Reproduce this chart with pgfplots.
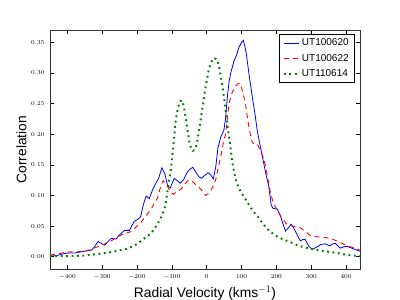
\documentclass[border=0pt]{standalone}
\usepackage{fontspec}
\setmainfont{Liberation Sans}
\usepackage{pgfplots}
\pgfplotsset{compat=1.18}
\definecolor{mplblue}{HTML}{0000FF}
\definecolor{mplred}{HTML}{FF0000}
\definecolor{mplgreen}{HTML}{008000}
\begin{document}
\begin{tikzpicture}
\path[use as bounding box] (-50pt,-31pt) rectangle (350pt,269pt);
\begin{axis}[
  at={(0pt,0pt)}, anchor=south west,
  scale only axis, width=310pt, height=239pt,
  xmin=-450, xmax=440, ymin=-0.02, ymax=0.37,
  xtick={-400,-300,-200,-100,0,100,200,300,400},
  ytick={0,0.05,0.10,0.15,0.20,0.25,0.30,0.35},
  yticklabel style={/pgf/number format/fixed, /pgf/number format/fixed zerofill, /pgf/number format/precision=2, xshift=-2pt},
  ticklabel style={font=\fontsize{6}{7}\selectfont},
  xticklabel style={yshift=-2pt},
  major tick length=4pt,
  tick style={black, line width=0.6pt},
  axis line style={black!80, line width=0.8pt},
  xlabel={\fontsize{13.8}{15}\selectfont Radial Velocity (kms$^{-1}$)},
  ylabel={\fontsize{13.8}{15}\selectfont Correlation},
  every axis x label/.style={at={(axis description cs:0.5,-0.056)}, anchor=north},
  every axis y label/.style={at={(axis description cs:-0.0645,0.5)}, rotate=90, anchor=south},
  legend image code/.code={\draw[#1] (0pt,0pt) -- (15pt,0pt);},
  legend style={at={(axis description cs:0.984,0.983)}, anchor=north east,
    draw=black, line width=0.8pt,
    row sep=2.8pt, inner xsep=4pt, inner ysep=2.5pt, cells={anchor=west}},
  legend cell align=left,
]
\addplot[mplblue, line width=0.8pt] coordinates {
(-450,0.001) (-430,0.002) (-410,0.005) (-400,0.006) (-380,0.006) (-360,0.008)
(-340,0.010) (-330,0.011) (-320,0.018) (-312,0.025) (-300,0.021) (-293,0.019)
(-283,0.025) (-274,0.030) (-260,0.029) (-250,0.036) (-236,0.043) (-222,0.043)
(-208,0.058) (-198,0.061) (-190,0.065) (-182,0.085) (-174,0.099) (-165,0.095)
(-155,0.110) (-146,0.120) (-138,0.128) (-129,0.145) (-120,0.135) (-112,0.115)
(-105,0.112) (-98,0.122) (-93,0.128) (-84,0.124) (-76,0.120) (-66,0.126)
(-58,0.136) (-50,0.142) (-40,0.146) (-30,0.137) (-22,0.130) (-15,0.128)
(-5,0.133) (4,0.137) (12,0.133) (19,0.127) (26,0.147) (32,0.177) (40,0.195)
(49,0.206) (54,0.225) (59,0.260) (64,0.285) (69,0.300) (78,0.319) (85,0.328)
(92,0.341) (100,0.350) (105,0.353) (110,0.342) (114,0.330) (122,0.295)
(131,0.260) (138,0.235) (145,0.206) (152,0.185) (160,0.163) (168,0.140)
(178,0.115) (185,0.085) (190,0.079) (202,0.078) (211,0.068) (218,0.055)
(226,0.042) (234,0.047) (242,0.053) (248,0.049) (254,0.042) (262,0.033)
(269,0.026) (276,0.028) (283,0.028) (292,0.018) (302,0.012) (310,0.014)
(316,0.016) (328,0.020) (340,0.021) (348,0.019) (354,0.018) (362,0.021)
(369,0.022) (376,0.018) (383,0.014) (392,0.016) (402,0.017) (412,0.015)
(421,0.013) (430,0.011) (440,0.009)
};
\addlegendentry{UT100620}
\addplot[mplred, line width=0.9pt, dash pattern=on 5pt off 4pt] coordinates {
(-450,0.003) (-430,0.004) (-410,0.007) (-390,0.008) (-370,0.008) (-351,0.010)
(-335,0.011) (-320,0.015) (-303,0.018) (-290,0.022) (-274,0.026) (-255,0.033)
(-235,0.038) (-217,0.041) (-200,0.050) (-189,0.056) (-170,0.070) (-160,0.077)
(-150,0.088) (-141,0.096) (-132,0.115) (-125,0.124) (-118,0.120) (-112,0.114)
(-104,0.106) (-96,0.102) (-86,0.106) (-74,0.110) (-64,0.118) (-53,0.125)
(-44,0.124) (-36,0.120) (-26,0.115) (-17,0.110) (-8,0.104) (-3,0.100)
(4,0.103) (11,0.107) (18,0.115) (26,0.126) (33,0.145) (40,0.163) (49,0.190)
(54,0.200) (60,0.230) (64,0.250) (73,0.268) (80,0.276) (88,0.282) (95,0.283)
(103,0.270) (111,0.250) (116,0.230) (121,0.212) (127,0.195) (131,0.186)
(138,0.184) (145,0.184) (155,0.172) (164,0.160) (173,0.135) (183,0.104)
(190,0.090) (200,0.078) (211,0.067) (220,0.060) (230,0.053) (245,0.050)
(260,0.049) (270,0.047) (283,0.041) (297,0.035) (310,0.033) (326,0.032)
(345,0.031) (364,0.028) (380,0.024) (392,0.021) (402,0.018) (420,0.015)
(440,0.011)
};
\addlegendentry{UT100622}
\addplot[mplgreen, line width=2pt, dash pattern=on 1.8pt off 3.6pt] coordinates {
(-450,0.001) (-400,0.001) (-351,0.002) (-303,0.005) (-280,0.007) (-255,0.010)
(-230,0.013) (-208,0.018) (-190,0.025) (-179,0.030) (-167,0.035) (-155,0.042)
(-143,0.052) (-131,0.064) (-122,0.077) (-117,0.090) (-112,0.110) (-107,0.128)
(-103,0.142) (-98,0.170) (-95,0.185) (-89,0.223) (-82,0.245) (-75,0.254)
(-70,0.255) (-65,0.243) (-60,0.225) (-55,0.206) (-50,0.188) (-45,0.177)
(-40,0.173) (-35,0.174) (-31,0.180) (-26,0.192) (-22,0.206) (-17,0.225)
(-12,0.244) (-6,0.268) (0,0.287) (5,0.303) (11,0.314) (17,0.323) (21,0.324)
(27,0.323) (32,0.318) (37,0.305) (40,0.296) (45,0.278) (49,0.262) (54,0.240)
(59,0.217) (64,0.195) (69,0.175) (73,0.155) (78,0.140) (83,0.126) (92,0.112)
(102,0.102) (110,0.095) (116,0.090) (124,0.082) (131,0.076) (140,0.070)
(150,0.063) (160,0.055) (173,0.046) (187,0.039) (202,0.033) (220,0.028)
(240,0.024) (255,0.020) (269,0.017) (290,0.014) (316,0.011) (340,0.009)
(364,0.007) (385,0.005) (402,0.003) (420,0.002) (440,0.001)
};
\addlegendentry{UT110614}
\end{axis}
\end{tikzpicture}
\end{document}
